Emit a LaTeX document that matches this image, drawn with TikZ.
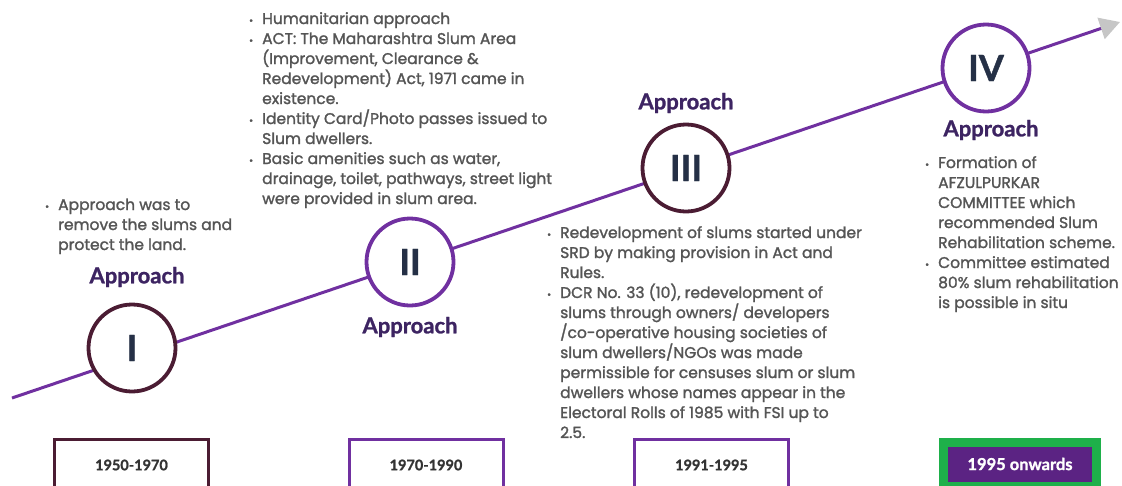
\documentclass[tikz,border=0pt]{standalone}
\usepackage{fontspec}
\setmainfont{Poppins}
\newfontfamily\notefont{Poppins}[FakeBold=1.6]
\newfontfamily\headfont{Lato}[FakeBold=1.2]
\usetikzlibrary{arrows.meta}
\definecolor{linepurple}{HTML}{7030A0}
\definecolor{darkmaroon}{HTML}{4B1C33}
\definecolor{headpurple}{HTML}{3D2462}
\definecolor{numnavy}{HTML}{253046}
\definecolor{notegray}{HTML}{555555}
\definecolor{boxgreen}{HTML}{1EB04A}
\definecolor{fillpurple}{HTML}{5B2383}
\tikzset{
  stage/.style={circle, draw=#1, line width=3.8pt, fill=white, minimum size=87pt, inner sep=0pt,
    font=\headfont\bfseries\fontsize{36}{36}\selectfont, text=numnavy},
  approach/.style={font=\headfont\bfseries\fontsize{22}{24}\selectfont, text=headpurple},
  notes/.style={anchor=base west, align=left, inner sep=0pt, font=\notefont\fontsize{15.5}{20}\selectfont, text=notegray},
  yearbox/.style={draw=#1, line width=3pt, minimum width=154pt, minimum height=51pt, inner sep=0pt,
    font=\headfont\bfseries\fontsize{14.5}{14.5}\selectfont, text=black!80}
}
\newcommand{\bul}{\llap{{\fontsize{10}{10}\selectfont\textbullet}\hspace{9pt}}}
\begin{document}
\begin{tikzpicture}[x=1pt, y=-1pt]
    \useasboundingbox (0,0) rectangle (1122,485);
    \clip (0,0) rectangle (1122,485);
    % timeline
    \coordinate (start) at (12,398);
    \coordinate (tip) at (1120,22);
    \draw[linepurple, line width=3pt, -{Triangle[length=20pt, width=22pt, color=gray!45]}] (start) -- (tip);
    % stages
    \node[stage=darkmaroon] (s1) at (132,348) {I};
    \node[stage=linepurple] (s2) at (410,262) {II};
    \node[stage=darkmaroon] (s3) at (686,168) {III};
    \node[stage=linepurple] (s4) at (986,68) {IV};
    \node[approach] (a1) at (137,277) {Approach};
    \node[approach] (a2) at (410,327) {Approach};
    \node[approach] (a3) at (686,103) {Approach};
    \node[approach] (a4) at (991,130) {Approach};
    % notes (anchored at the baseline of their last line)
    \node[notes] (n1) at (58,250) {\bul Approach was to\\ remove the slums and\\ protect the land.};
    \node[notes] (n2) at (262,204) {\bul Humanitarian approach\\
      \bul ACT: The Maharashtra Slum Area\\ (Improvement, Clearance \&\\ Redevelopment) Act, 1971 came in\\ existence.\\
      \bul Identity Card/Photo passes issued to\\ Slum dwellers.\\
      \bul Basic amenities such as water,\\ drainage, toilet, pathways, street light\\ were provided in slum area.};
    \node[notes] (n3) at (560,438) {\bul Redevelopment of slums started under\\ SRD by making provision in Act and\\ Rules.\\
      \bul DCR No. 33 (10), redevelopment of\\ slums through owners/ developers\\ /co-operative housing societies of\\ slum dwellers/NGOs was made\\ permissible for censuses slum or slum\\ dwellers whose names appear in the\\ Electoral Rolls of 1985 with FSI up to\\ 2.5.};
    \node[notes] (n4) at (938,308) {\bul Formation of\\ AFZULPURKAR\\ COMMITTEE which\\ recommended Slum\\ Rehabilitation scheme.\\
      \bul Committee estimated\\ 80\% slum rehabilitation\\ is possible in situ};
    % years
    \node[yearbox=darkmaroon] (y1) at (131.5,465) {1950-1970};
    \node[yearbox=linepurple] (y2) at (426,465) {1970-1990};
    \node[yearbox=linepurple] (y3) at (711.5,465) {1991-1995};
    \node[yearbox=boxgreen, line width=9pt, fill=fillpurple, text=white, minimum width=153pt, minimum height=44pt,
      font=\headfont\bfseries\fontsize{16.5}{16.5}\selectfont] (y4) at (1020,464) {1995 onwards};
\end{tikzpicture}
\end{document}
